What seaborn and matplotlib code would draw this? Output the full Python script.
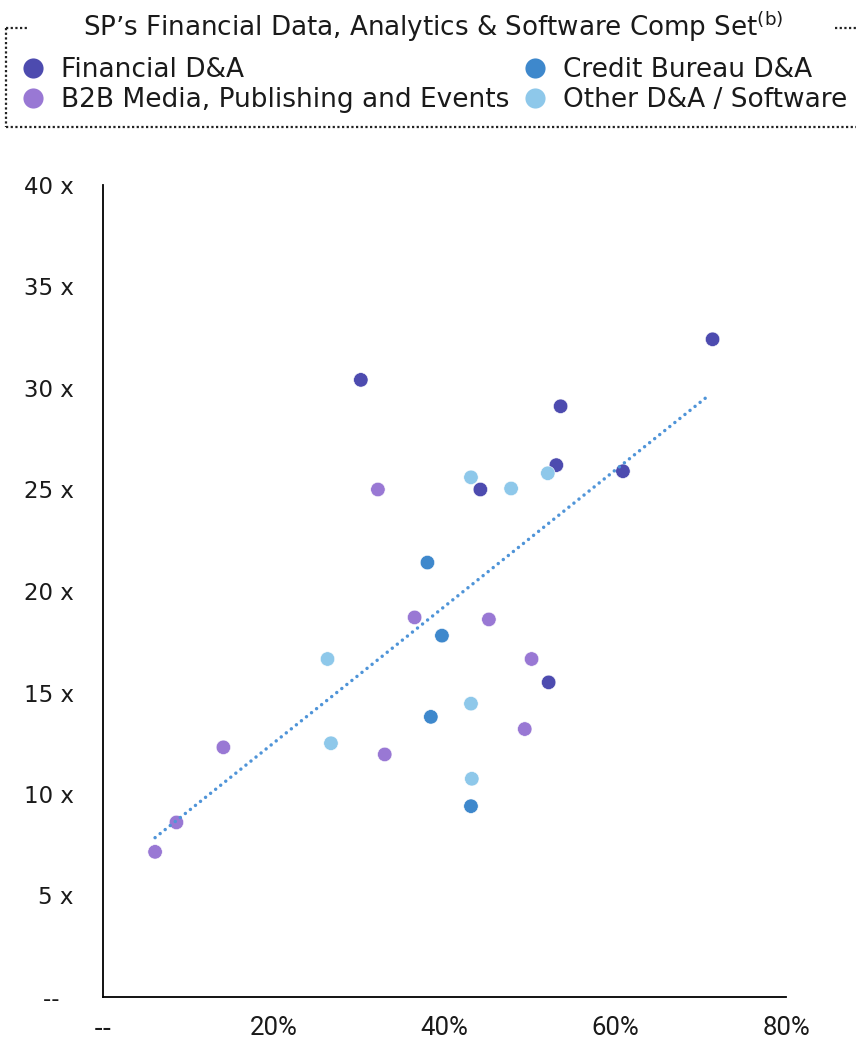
import numpy as np
import pandas as pd
import matplotlib
matplotlib.use("Agg")
import matplotlib.pyplot as plt
from matplotlib.lines import Line2D
import seaborn as sns

# ---------------- data ----------------
categories = ["Financial D&A", "Credit Bureau D&A",
              "B2B Media, Publishing and Events", "Other D&A / Software"]
fin_x = [30.2, 71.4, 53.6, 53.1, 60.9, 44.2, 52.2]
fin_y = [30.4, 32.4, 29.1, 26.2, 25.9, 25.0, 15.5]
cb_x = [38.0, 39.7, 38.4, 43.1]
cb_y = [21.4, 17.8, 13.8, 9.4]
b2b_x = [32.2, 36.5, 45.2, 50.2, 49.4, 33.0, 14.1, 8.6, 6.1]
b2b_y = [25.0, 18.7, 18.6, 16.65, 13.2, 11.95, 12.3, 8.6, 7.15]
oth_x = [43.1, 47.8, 52.1, 26.3, 26.7, 43.1, 43.2]
oth_y = [25.6, 25.05, 25.8, 16.65, 12.5, 14.45, 10.75]
trend_x = [6.1, 71.0]
trend_y = [7.85, 29.65]

x_ticks = [0, 20, 40, 60, 80]
x_labels = ["--", "20%", "40%", "60%", "80%"]
y_ticks = [0, 5, 10, 15, 20, 25, 30, 35, 40]
y_labels = ["--  ", "5 x", "10 x", "15 x", "20 x", "25 x", "30 x", "35 x", "40 x"]
title = "SP\u2019s Financial Data, Analytics & Software Comp Set"
legend_col1 = ["Financial D&A", "B2B Media, Publishing and Events"]
legend_col2 = ["Credit Bureau D&A", "Other D&A / Software"]

colors = {"Financial D&A": "#4D4BAF", "Credit Bureau D&A": "#3E88CC",
          "B2B Media, Publishing and Events": "#9978D4",
          "Other D&A / Software": "#8EC8EA"}
trend_color = "#4F94D8"
text_color = "#1a1a1a"

df = pd.concat([
    pd.DataFrame({"x": fin_x, "y": fin_y, "cat": categories[0]}),
    pd.DataFrame({"x": cb_x, "y": cb_y, "cat": categories[1]}),
    pd.DataFrame({"x": b2b_x, "y": b2b_y, "cat": categories[2]}),
    pd.DataFrame({"x": oth_x, "y": oth_y, "cat": categories[3]}),
], ignore_index=True)
trend_df = pd.DataFrame({"x": trend_x, "y": trend_y})

# ---------------- style ----------------
sns.set_style("white")
plt.rcParams["font.family"] = ["DejaVu Sans"]
plt.rcParams["mathtext.fontset"] = "dejavusans"
plt.rcParams["text.color"] = text_color
plt.rcParams["xtick.color"] = text_color
plt.rcParams["ytick.color"] = text_color

fig = plt.figure(figsize=(8.56, 10.44), dpi=100)
W, H = 856, 1044
ax = fig.add_axes([103 / W, 47 / H, (786 - 103) / W, (997 - 185) / H])

sns.scatterplot(data=df, x="x", y="y", hue="cat", palette=colors,
                s=108, edgecolor="white", linewidth=0.4, alpha=1,
                ax=ax, legend=False, zorder=3)

sns.lineplot(data=trend_df, x="x", y="y", ax=ax, color=trend_color,
             lw=2.5, linestyle=(0, (0.01, 1.85)), dash_capstyle="round",
             zorder=4)

ax.set_xlim(0, 80)
ax.set_ylim(0, 40)
ax.set_xticks(x_ticks)
ax.set_xticklabels(x_labels, fontsize=18.5, family=["Roboto", "DejaVu Sans"])
ax.get_xticklabels()[0].set_family("DejaVu Sans")
ax.set_yticks(y_ticks)
ax.set_yticklabels(y_labels, fontsize=16.5)
ax.tick_params(axis="both", length=0)
ax.tick_params(axis="x", pad=14)
ax.tick_params(axis="y", pad=21)
ax.set_xlabel("")
ax.set_ylabel("")
for s in ["top", "right"]:
    ax.spines[s].set_visible(False)
for s in ["left", "bottom"]:
    ax.spines[s].set_color("black")
    ax.spines[s].set_linewidth(1.3)

# ---------------- legend ----------------
def make_handles(names):
    return [Line2D([0], [0], marker="o", linestyle="none", markersize=14.5,
                   markerfacecolor=colors[c], markeredgecolor="none")
            for c in names]


leg_kw = dict(ncol=1, loc="upper left", frameon=False, fontsize=19,
              handlelength=0.9, handletextpad=0.6, labelspacing=0.16,
              borderpad=0, borderaxespad=0)
leg1 = fig.legend(make_handles(legend_col1), legend_col1,
                  bbox_to_anchor=(21 / W, 1 - 57 / H), **leg_kw)
leg2 = fig.legend(make_handles(legend_col2), legend_col2,
                  bbox_to_anchor=(523 / W, 1 - 57 / H), **leg_kw)

fig.text(433 / W, 1 - 36 / H, title + r"$^{\mathrm{(b)}}$",
         ha="center", va="baseline", fontsize=18.8)

dot = dict(color="#222222", lw=1.6, linestyle=(0, (1, 1.1)),
           transform=fig.transFigure, clip_on=False)
fig.add_artist(Line2D([6 / W, 6 / W], [1 - 28 / H, 1 - 127 / H], **dot))
fig.add_artist(Line2D([6 / W, 29 / W], [1 - 28 / H, 1 - 28 / H], **dot))
fig.add_artist(Line2D([835 / W, 1.0], [1 - 28 / H, 1 - 28 / H], **dot))
fig.add_artist(Line2D([6 / W, 1.0], [1 - 127 / H, 1 - 127 / H], **dot))

fig.savefig("out.png", dpi=100)
